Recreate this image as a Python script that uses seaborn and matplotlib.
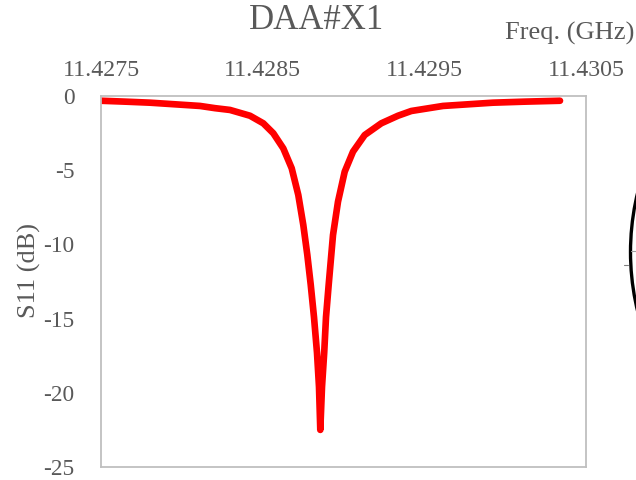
import matplotlib
matplotlib.use("Agg")
import matplotlib.pyplot as plt
from matplotlib.patches import Circle
from matplotlib.lines import Line2D
import seaborn as sns
import pandas as pd

# Measured reflection of resonator DAA#X1
freq_ghz = [11.4275000, 11.4276485, 11.4278031, 11.4279577, 11.4281124, 11.4282052,
            11.4282979, 11.4284216, 11.4285039, 11.4285658, 11.4286276, 11.4286796,
            11.4287204, 11.4287513, 11.4287761, 11.4287971, 11.4288175, 11.4288361,
            11.4288485, 11.4288565, 11.4288670, 11.4288806, 11.4288918, 11.4289085,
            11.4289351, 11.4289660, 11.4290074, 11.4290588, 11.4291311, 11.4292338,
            11.4293371, 11.4294194, 11.4296155, 11.4297701, 11.4299247, 11.4301227,
            11.4303392]
s11_db = [-0.32, -0.38, -0.45, -0.56, -0.67, -0.82,
          -0.94, -1.33, -1.84, -2.51, -3.53, -4.87,
          -6.67, -8.69, -10.7, -12.7, -14.9, -17.3,
          -19.6, -22.5, -19.6, -17.3, -14.9, -12.7,
          -9.37, -7.12, -5.1, -3.75, -2.63, -1.84,
          -1.33, -1.01, -0.67, -0.56, -0.45, -0.38,
          -0.32]

x_ticks = [11.4275, 11.4285, 11.4295, 11.4305]
y_ticks = [0, -5, -10, -15, -20, -25]

sns.set_theme(style="white")
plt.rcParams["font.family"] = ["Liberation Serif", "DejaVu Serif"]
plt.rcParams["axes.unicode_minus"] = False

text_color = "#595959"
W, H, DPI = 636, 480, 100
fig = plt.figure(figsize=(W / DPI, H / DPI), dpi=DPI)
fig.patch.set_facecolor("white")

left, right, top, bottom = 101, 586, 96, 467
ax = fig.add_axes([left / W, 1 - bottom / H, (right - left) / W, (bottom - top) / H])

df = pd.DataFrame({"freq": freq_ghz, "s11": s11_db})
sns.lineplot(data=df, x="freq", y="s11", ax=ax, color="#FF0000",
             linewidth=4.8, solid_capstyle="round", solid_joinstyle="round", sort=False)

ax.set_xlim(x_ticks[0], x_ticks[-1])
ax.set_ylim(y_ticks[-1], y_ticks[0])
ax.xaxis.tick_top()
ax.set_xticks(x_ticks)
ax.set_xticklabels([f"{t:.4f}" for t in x_ticks])
ax.set_yticks(y_ticks)
ax.set_yticklabels([str(t) for t in y_ticks])
ax.tick_params(axis="x", length=0, pad=11, labelsize=17.2, labelcolor=text_color)
ax.tick_params(axis="y", length=0, pad=19, labelsize=16.8, labelcolor=text_color)

for sp in ax.spines.values():
    sp.set_color("#BFBFBF")
    sp.set_linewidth(1.3)

ax.set_ylabel("S11 (dB)", fontsize=19, color=text_color)
ax.yaxis.set_label_coords(-0.124, 0.53)
ax.set_xlabel("Freq. (GHz)", fontsize=19, color=text_color)
ax.xaxis.set_label_position("top")
ax.xaxis.label.set_ha("right")
ax.xaxis.label.set_va("center")
ax.xaxis.set_label_coords((634 - left) / (right - left), (bottom - 33) / (bottom - top))

ax.text((317 - left) / (right - left), (bottom - 21) / (bottom - top), "DAA#X1",
        transform=ax.transAxes, fontsize=25, color=text_color, ha="center", va="center")

# Edge of an adjacent Smith chart panel
cx, cy, r = 880.5, 252, 250
fig.add_artist(Circle((cx / DPI, (H - cy) / DPI), r / DPI, transform=fig.dpi_scale_trans,
                      fill=False, edgecolor="black", linewidth=2.4))
fig.add_artist(Line2D([631 / DPI, W / DPI], [(H - 251) / DPI] * 2,
                      transform=fig.dpi_scale_trans, color="#A0A0A0", linewidth=0.8))
fig.add_artist(Line2D([624 / DPI, 628 / DPI], [(H - 265) / DPI] * 2,
                      transform=fig.dpi_scale_trans, color="#808080", linewidth=0.8))

fig.savefig("out.png", dpi=DPI, facecolor="white")
